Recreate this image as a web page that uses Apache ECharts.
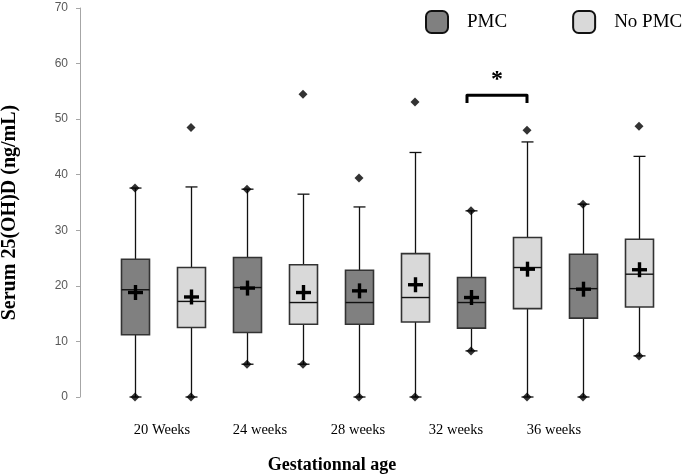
<!DOCTYPE html>
<html><head><meta charset="utf-8">
<script src="https://cdn.jsdelivr.net/npm/echarts@6/dist/echarts.min.js"></script>
<style>html,body{margin:0;padding:0;background:#fff}#c{width:685px;height:476px}</style>
</head><body><div id="c"></div>
<script>
const weeks = ['20 Weeks', '24 weeks', '28 weeks', '32 weeks', '36 weeks'];
const groups = ['PMC', 'No PMC'];
// PMC group
const pmcMin  = [0, 5.9, 0, 8.3, 0];
const pmcQ1   = [11.2, 11.6, 13.1, 12.4, 14.2];
const pmcMed  = [19.3, 19.7, 17.0, 17.0, 19.5];
const pmcQ3   = [24.8, 25.1, 22.8, 21.5, 25.7];
const pmcMax  = [37.6, 37.4, 34.2, 33.5, 34.7];
const pmcMean = [18.8, 19.6, 19.1, 17.9, 19.4];
// No PMC group
const noMin  = [0, 5.9, 0, 0, 7.4];
const noQ1   = [12.5, 13.1, 13.5, 15.9, 16.2];
const noMed  = [17.2, 17.0, 17.9, 23.3, 22.1];
const noQ3   = [23.3, 23.8, 25.8, 28.7, 28.4];
const noMax  = [37.8, 36.5, 44.0, 45.9, 43.3];
const noMean = [18.0, 18.8, 20.2, 23.0, 22.9];
// individual points (week index, value)
const pmcPoints = [[0, 37.6], [0, 0], [1, 37.4], [1, 5.9], [2, 39.4], [2, 0], [3, 33.5], [3, 8.3], [4, 34.7], [4, 0]];
const noPoints  = [[0, 48.5], [0, 0], [1, 54.5], [1, 5.9], [2, 53.1], [2, 0], [3, 48.0], [3, 0], [4, 48.7], [4, 7.4]];
// significance: week index, bracket level, star level
const sigWeek = 3, sigLow = 52.9, sigHigh = 54.3, sigStar = 57.0;
const yMin = 0, yMax = 70, yStep = 10;

const slots = [];
weeks.forEach(w => { slots.push(w + ' PMC'); slots.push(w + ' No PMC'); });

function boxRender(params, api) {
  const x = api.value(0);
  const lo = api.coord([x, api.value(1)]);
  const q1 = api.coord([x, api.value(2)]);
  const md = api.coord([x, api.value(3)]);
  const q3 = api.coord([x, api.value(4)]);
  const hi = api.coord([x, api.value(5)]);
  const mn = api.coord([x, api.value(6)]);
  const cx = Math.round(lo[0]) + 0.5;
  const bw = 28, cw = 12, pw = 15, pt = 3.4;
  const fill = api.visual('color');
  const ws = { stroke: '#111', lineWidth: 1.3 };
  return {
    type: 'group', children: [
      { type: 'line', shape: { x1: cx, y1: hi[1], x2: cx, y2: q3[1] }, style: ws },
      { type: 'line', shape: { x1: cx, y1: q1[1], x2: cx, y2: lo[1] }, style: ws },
      { type: 'line', shape: { x1: cx - cw / 2, y1: hi[1], x2: cx + cw / 2, y2: hi[1] }, style: ws },
      { type: 'line', shape: { x1: cx - cw / 2, y1: lo[1], x2: cx + cw / 2, y2: lo[1] }, style: ws },
      { type: 'rect', shape: { x: cx - bw / 2, y: q3[1], width: bw, height: q1[1] - q3[1] }, style: { fill: fill, stroke: '#333', lineWidth: 1.6 } },
      { type: 'line', shape: { x1: cx - bw / 2, y1: md[1], x2: cx + bw / 2, y2: md[1] }, style: { stroke: '#111', lineWidth: 1.4 } },
      { type: 'rect', shape: { x: cx - pw / 2, y: mn[1] - pt / 2, width: pw, height: pt }, style: { fill: '#000' } },
      { type: 'rect', shape: { x: cx - pt / 2, y: mn[1] - pw / 2, width: pt, height: pw }, style: { fill: '#000' } }
    ]
  };
}

function sigRender(params, api) {
  const a = api.coord([api.value(0), api.value(3)]);
  const b = api.coord([api.value(1), api.value(3)]);
  const l = api.coord([api.value(0), api.value(2)]);
  const s = api.coord([api.value(0), api.value(4)]);
  return {
    type: 'group', children: [
      { type: 'polyline', shape: { points: [[a[0] - 4, l[1]], [a[0] - 4, a[1]], [b[0], b[1]], [b[0], l[1]]] },
        style: { stroke: '#000', lineWidth: 3, lineJoin: 'round', fill: null } },
      { type: 'text', x: (a[0] - 4 + b[0]) / 2, y: s[1],
        style: { text: '*', font: 'bold 24px "Liberation Serif"', align: 'center', verticalAlign: 'middle', fill: '#000' } }
    ]
  };
}

const pmcData = weeks.map((w, i) => [2 * i, pmcMin[i], pmcQ1[i], pmcMed[i], pmcQ3[i], pmcMax[i], pmcMean[i]]);
const noData = weeks.map((w, i) => [2 * i + 1, noMin[i], noQ1[i], noMed[i], noQ3[i], noMax[i], noMean[i]]);

const chart = echarts.init(document.getElementById('c'));
chart.setOption({
  animation: false,
  backgroundColor: '#fff',
  legend: {
    top: 10, left: 425, width: 300, padding: 0, orient: 'horizontal',
    itemWidth: 22, itemHeight: 22, itemGap: 65,
    textStyle: { fontFamily: 'Liberation Serif', fontSize: 19, color: '#000', padding: [0, 0, 0, 14] },
    data: [
      { name: groups[0], icon: 'roundRect', itemStyle: { color: '#808080', borderColor: '#111', borderWidth: 2 } },
      { name: groups[1], icon: 'roundRect', itemStyle: { color: '#d9d9d9', borderColor: '#111', borderWidth: 2 } }
    ]
  },
  grid: [
    { left: 107, width: 560, top: 8, bottom: 79, outerBoundsMode: 'none', containLabel: false },
    { left: 113, width: 490, top: 8, bottom: 79, outerBoundsMode: 'none', containLabel: false }
  ],
  xAxis: [
    { type: 'category', data: slots, gridIndex: 0, show: false },
    { type: 'category', data: weeks, gridIndex: 1,
      axisLine: { show: false }, axisTick: { show: false },
      axisLabel: { margin: 26, fontFamily: 'Liberation Serif', fontSize: 14.5, color: '#000' },
      name: 'Gestationnal age', nameLocation: 'middle', nameGap: 59,
      nameTextStyle: { fontFamily: 'Liberation Serif', fontWeight: 'bold', fontSize: 18, color: '#000', padding: [0, 52, 0, 0] } }
  ],
  yAxis: [
    { type: 'value', gridIndex: 0, min: yMin, max: yMax, interval: yStep, offset: 27,
      axisLine: { show: true, lineStyle: { color: '#a6a6a6', width: 1 } },
      axisTick: { show: true, length: 4, lineStyle: { color: '#a6a6a6' } },
      splitLine: { show: false },
      axisLabel: { margin: 12, fontFamily: 'Liberation Sans', fontSize: 12, color: '#595959' },
      name: 'Serum 25(OH)D (ng/mL)', nameLocation: 'middle', nameGap: 60,
      nameTextStyle: { fontFamily: 'Liberation Serif', fontWeight: 'bold', fontSize: 20, color: '#000', padding: [0, 20, 0, 0] } },
    { type: 'value', gridIndex: 1, min: yMin, max: yMax, show: false }
  ],
  series: [
    { name: groups[0], type: 'custom', xAxisIndex: 0, yAxisIndex: 0, renderItem: boxRender,
      itemStyle: { color: '#808080' }, encode: { x: 0, y: [1, 2, 3, 4, 5, 6] }, data: pmcData, z: 2 },
    { name: groups[1], type: 'custom', xAxisIndex: 0, yAxisIndex: 0, renderItem: boxRender,
      itemStyle: { color: '#d9d9d9' }, encode: { x: 0, y: [1, 2, 3, 4, 5, 6] }, data: noData, z: 2 },
    { name: 'pts', type: 'scatter', xAxisIndex: 0, yAxisIndex: 0, symbol: 'diamond', symbolSize: [9, 9],
      itemStyle: { color: '#000' }, z: 5,
      data: pmcPoints.map(p => [2 * p[0], p[1]]).concat(noPoints.map(p => [2 * p[0] + 1, p[1]])) },
    { name: 'sig', type: 'custom', xAxisIndex: 0, yAxisIndex: 0, renderItem: sigRender,
      encode: { x: [0, 1], y: [2, 3, 4] }, data: [[2 * sigWeek, 2 * sigWeek + 1, sigLow, sigHigh, sigStar]], z: 6 }
  ]
});
</script>
</body></html>
